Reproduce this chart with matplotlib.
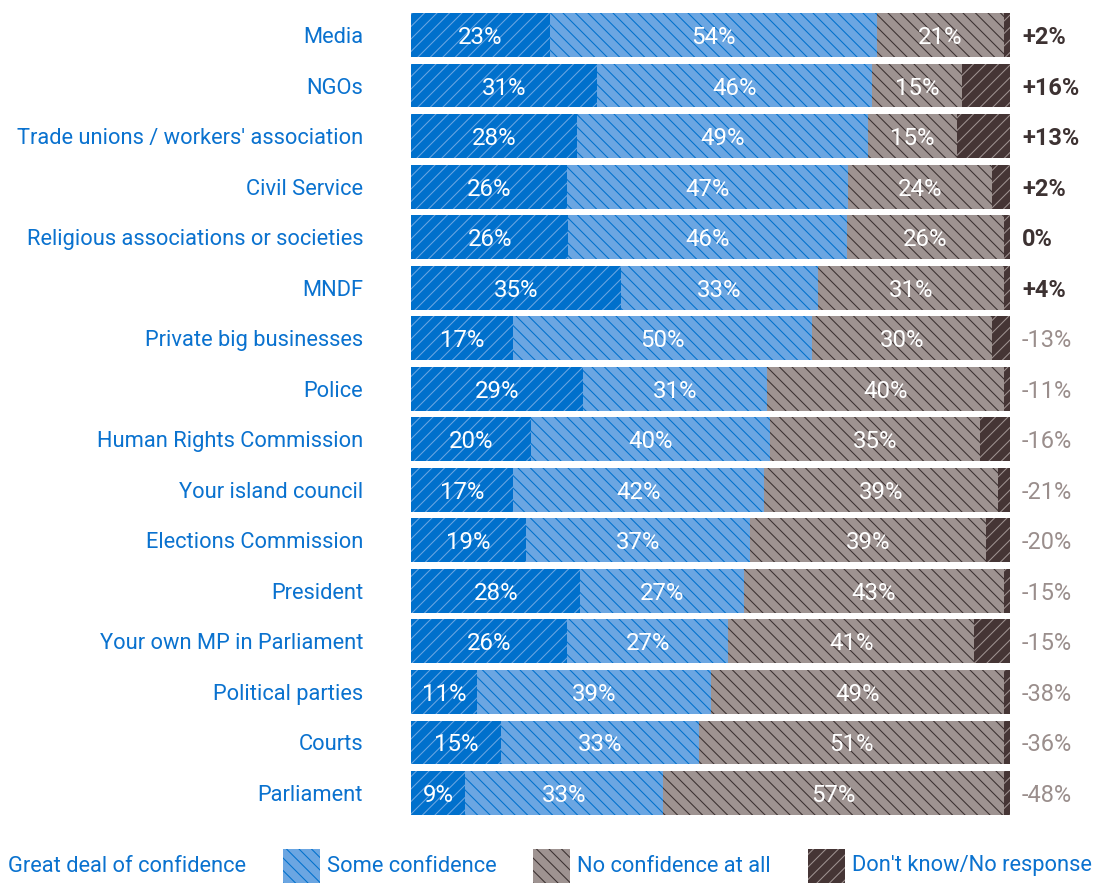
import numpy as np
import matplotlib
matplotlib.use("Agg")
import matplotlib.pyplot as plt
from matplotlib.patches import Rectangle

plt.rcParams['font.family'] = ['Roboto', 'DejaVu Sans']
plt.rcParams['hatch.linewidth'] = 1.0

# Data
institutions = ["Media", "NGOs", "Trade unions / workers' association", "Civil Service",
                "Religious associations or societies", "MNDF", "Private big businesses",
                "Police", "Human Rights Commission", "Your island council",
                "Elections Commission", "President", "Your own MP in Parliament",
                "Political parties", "Courts", "Parliament"]
great_deal = [23, 31, 28, 26, 26, 35, 17, 29, 20, 17, 19, 28, 26, 11, 15, 9]
some_conf = [54, 46, 49, 47, 46, 33, 50, 31, 40, 42, 37, 27, 27, 39, 33, 33]
no_conf = [21, 15, 15, 24, 26, 31, 30, 40, 35, 39, 39, 43, 41, 49, 51, 57]
dont_know = [1, 8, 9, 3, 1, 1, 3, 1, 5, 2, 4, 1, 6, 1, 1, 1]
net = ["+2%", "+16%", "+13%", "+2%", "0%", "+4%", "-13%", "-11%", "-16%", "-21%",
       "-20%", "-15%", "-15%", "-38%", "-36%", "-48%"]

series = [great_deal, some_conf, no_conf, dont_know]
names = ["Great deal of confidence", "Some confidence", "No confidence at all",
         "Don't know/No response"]
faces = ["#0070cc", "#6ba6e2", "#9e9391", "#453535"]
hatch_cols = ["#6ba6e2", "#0070cc", "#3a3030", "#9e9391"]
hatches = ["//", "\\\\", "\\\\", "//"]

label_blue = "#0a72cf"

DPI = 75
fig = plt.figure(figsize=(1109 / DPI, 883 / DPI), dpi=DPI)
ax = fig.add_axes([411 / 1109, 1 - 818.3 / 883, 599 / 1109, 808.6 / 883])

data = np.array(series, dtype=float)
totals = data.sum(axis=0)
widths = data / totals * 100
y = np.arange(len(institutions))

left = np.zeros(len(institutions))
for k in range(4):
    ax.barh(y, widths[k], left=left, height=0.87, color=faces[k],
            edgecolor=hatch_cols[k], linewidth=0, hatch=hatches[k])
    if k < 3:
        for i in range(len(institutions)):
            ax.text(left[i] + widths[k][i] / 2, y[i], f"{series[k][i]}%",
                    ha="center", va="center_baseline", color="white", fontsize=23)
    left += widths[k]

for i, s in enumerate(net):
    pos = not s.startswith("-")
    ax.text(102, y[i], s, ha="left", va="center_baseline", fontsize=22.5,
            color="#3d3232" if pos else "#9a8e8c",
            fontweight="bold" if pos else "normal", clip_on=False)

ax.set_xlim(0, 100)
ax.set_ylim(len(institutions) - 0.5, -0.5)
ax.set_yticks(y)
ax.set_yticklabels(institutions, fontsize=21, color=label_blue)
ax.tick_params(axis="y", length=0, pad=46)
ax.set_xticks([])
for sp in ax.spines.values():
    sp.set_visible(False)

# Legend
leg_y = 866
fig.text(8 / 1109, 1 - leg_y / 883, names[0], ha="left", va="center",
         fontsize=21, color=label_blue)
patch_x = [283, 533, 808]
for k, px in zip([1, 2, 3], patch_x):
    fig.patches.append(Rectangle((px / 1109, 0), 37 / 1109, 34 / 883,
                                 transform=fig.transFigure, facecolor=faces[k],
                                 edgecolor=hatch_cols[k], linewidth=0, hatch=hatches[k]))
    fig.text((px + 44) / 1109, 1 - leg_y / 883, names[k], ha="left", va="center",
             fontsize=21, color=label_blue)

fig.savefig("out.png", dpi=DPI)
